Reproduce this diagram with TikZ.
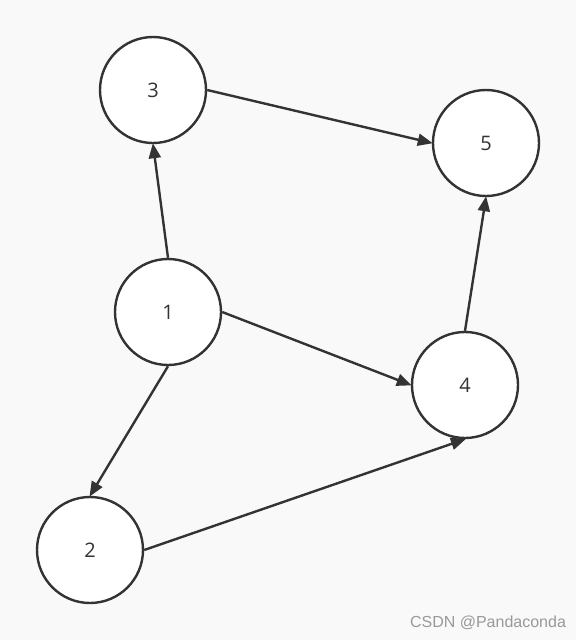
\documentclass[tikz,border=0pt]{standalone}
\usepackage{fontspec}
\setmainfont{Open Sans}
\newfontfamily\wmfont{Liberation Sans}
\usetikzlibrary{arrows.meta}
\definecolor{bg}{HTML}{F9F9F9}
\definecolor{ink}{HTML}{333333}
\definecolor{wm}{HTML}{999999}
\begin{document}
\begin{tikzpicture}[x=1pt,y=-1pt,
  vert/.style={draw=ink,fill=white,line width=2.4pt,circle,minimum size=106pt,inner sep=0pt,font=\fontsize{20}{22}\selectfont,text=ink},
  edge/.style={draw=ink,line width=2.4pt,-{Triangle[length=15pt,width=12pt]},shorten >=-1pt}]
\fill[bg] (0,0) rectangle (576,640);
\useasboundingbox (0,0) rectangle (576,640);
\node[vert] (n3) at (153,90) {3};
\node[vert] (n5) at (486,143) {5};
\node[vert] (n1) at (168,312) {1};
\node[vert] (n4) at (465,385) {4};
\node[vert] (n2) at (90,550) {2};
\draw[edge] (n1.north) -- (n3.south);
\draw[edge] (n1.east) -- (n4.west);
\draw[edge] (n1.south) -- (n2.north);
\draw[edge] (n3.east) -- (n5.west);
\draw[edge] (n2.east) -- (n4.south);
\draw[edge] (n4.north) -- (n5.south);
\node[text=wm,font=\wmfont\fontsize{16}{18}\selectfont] (wm) at (488,623) {CSDN @Pandaconda};
\end{tikzpicture}
\end{document}
